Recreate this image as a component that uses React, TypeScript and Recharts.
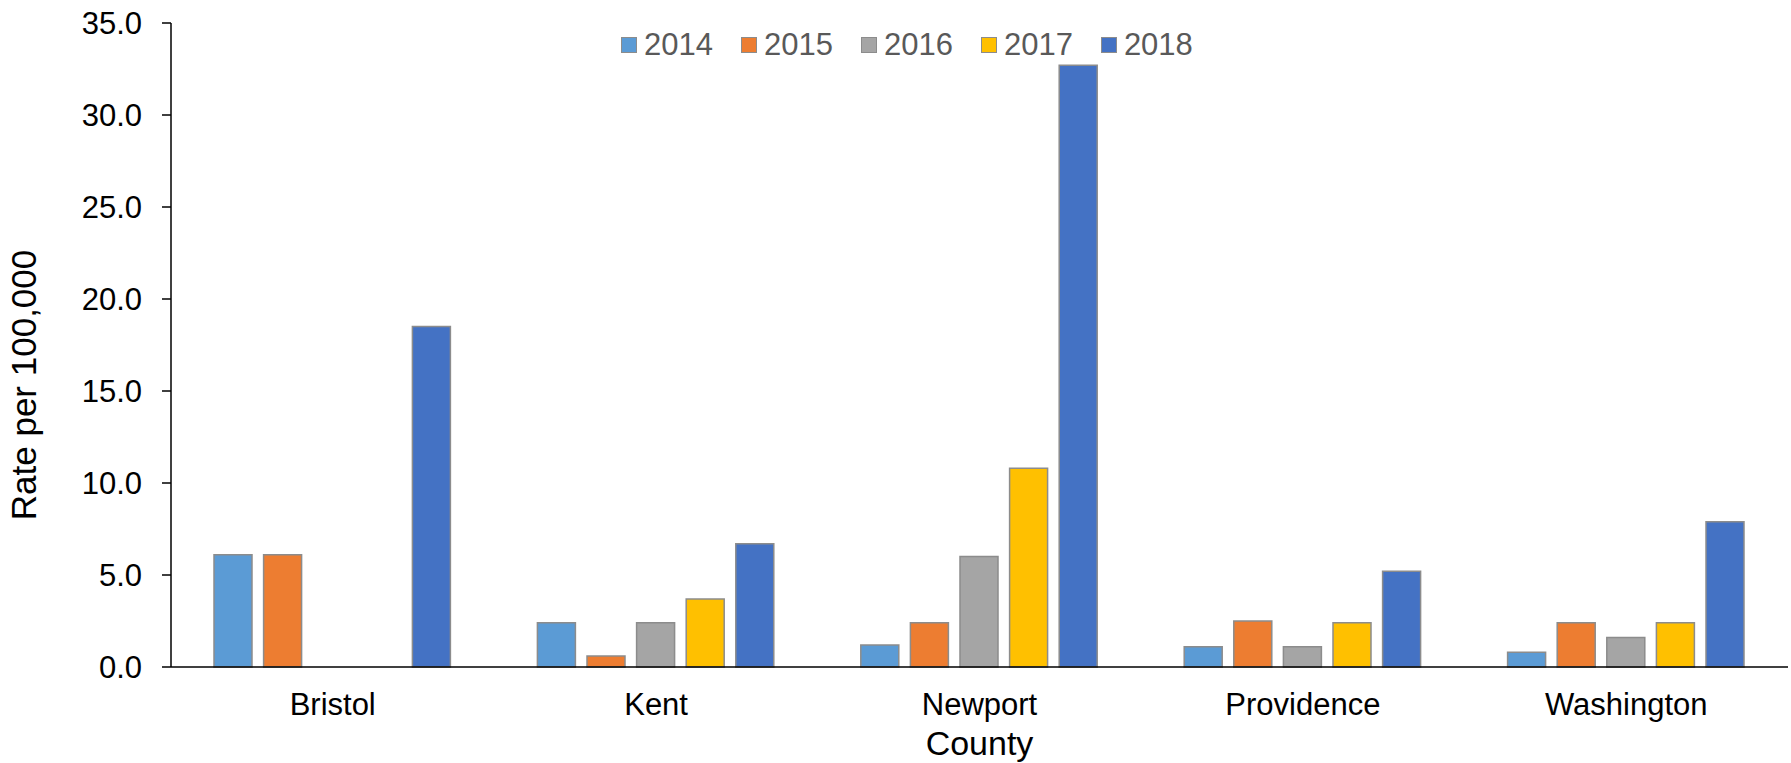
import { BarChart, Bar, XAxis, YAxis, Label } from 'recharts';

const counties = ['Bristol', 'Kent', 'Newport', 'Providence', 'Washington'];
const years = ['2014', '2015', '2016', '2017', '2018'];
const colors = ['#5B9BD5', '#ED7D31', '#A5A5A5', '#FFC000', '#4472C4'];

const rate2014 = [6.1, 2.4, 1.2, 1.1, 0.8];
const rate2015 = [6.1, 0.6, 2.4, 2.5, 2.4];
const rate2016 = [null, 2.4, 6.0, 1.1, 1.6];
const rate2017 = [null, 3.7, 10.8, 2.4, 2.4];
const rate2018 = [18.5, 6.7, 32.7, 5.2, 7.9];

const yTicks = [0, 5, 10, 15, 20, 25, 30, 35];

const seriesValues = [rate2014, rate2015, rate2016, rate2017, rate2018];

const data = counties.map((county, i) => {
  const row: Record<string, string | number | null> = { county };
  years.forEach((y, j) => {
    row[y] = seriesValues[j][i];
  });
  return row;
});

const FONT = '"Liberation Sans", Arial, sans-serif';

const XTick = ({ x, y, payload }: any) => (
  <text x={x} y={y} dy={48} textAnchor="middle" fontSize={31} fontFamily={FONT} fill="#000">
    {payload.value}
  </text>
);

function ChartLegend() {
  return (
    <div
      style={{
        position: 'absolute',
        left: 621,
        top: 29,
        display: 'flex',
        alignItems: 'center',
        fontFamily: FONT,
        fontSize: 31,
        lineHeight: '31px',
        color: '#595959',
      }}
    >
      {years.map((y, i) => (
        <div key={y} style={{ display: 'flex', alignItems: 'center', marginRight: i < years.length - 1 ? 28 : 0 }}>
          <div
            style={{
              width: 16,
              height: 16,
              boxSizing: 'border-box',
              background: colors[i],
              border: '1.5px solid #8c8c8c',
              marginRight: 7,
            }}
          />
          <span>{y}</span>
        </div>
      ))}
    </div>
  );
}

export default function App() {
  return (
    <div style={{ position: 'absolute', left: 0, top: 0, width: 1791, height: 763, background: '#fff' }}>
      <BarChart
        width={1791}
        height={763}
        data={data}
        margin={{ top: 23, right: 3, bottom: 0, left: 0 }}
        barSize={38}
        barGap={11.6}
      >
        <XAxis
          dataKey="county"
          height={96}
          tickLine={false}
          tickSize={0}
          tickMargin={0}
          tick={<XTick />}
          axisLine={{ stroke: '#000', strokeWidth: 1.5 }}
          interval={0}
        >
          <Label
            content={({ viewBox }: any) => (
              <text
                x={viewBox.x + viewBox.width / 2}
                y={viewBox.y + 88}
                textAnchor="middle"
                fontSize={34}
                fontFamily={FONT}
                fill="#000"
              >
                County
              </text>
            )}
          />
        </XAxis>
        <YAxis
          width={171}
          domain={[0, 35]}
          ticks={yTicks}
          interval={0}
          tickFormatter={(v: number) => v.toFixed(1)}
          tickSize={9}
          tickMargin={20}
          tick={{ fontSize: 31, fontFamily: FONT, fill: '#000' }}
          tickLine={{ stroke: '#000', strokeWidth: 1.5 }}
          axisLine={{ stroke: '#000', strokeWidth: 1.5 }}
        >
          <Label
            content={({ viewBox }: any) => {
              const cx = 36;
              const cy = viewBox.y + 362;
              return (
                <text
                  x={cx}
                  y={cy}
                  transform={`rotate(-90 ${cx} ${cy})`}
                  textAnchor="middle"
                  fontSize={35}
                  fontFamily={FONT}
                  fill="#000"
                >
                  Rate per 100,000
                </text>
              );
            }}
          />
        </YAxis>
        {years.map((y, i) => (
          <Bar
            key={y}
            dataKey={y}
            fill={colors[i]}
            stroke="#8c8c8c"
            strokeWidth={1.5}
            isAnimationActive={false}
          />
        ))}
      </BarChart>
      <ChartLegend />
    </div>
  );
}
